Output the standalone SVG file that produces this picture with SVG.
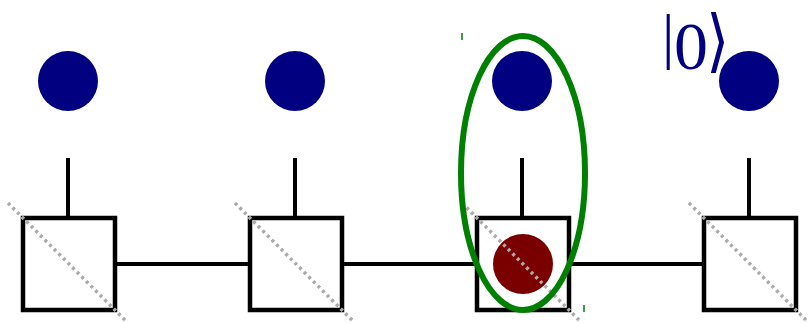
<svg xmlns="http://www.w3.org/2000/svg" width="808" height="323" viewBox="0 0 808 323">
<style>
.q{fill:#000080}
.box{fill:#fff;stroke:#000;stroke-width:4.5}
.ln{stroke:#000;stroke-width:4;fill:none}
.dg{stroke:#aaa;stroke-width:3.5;stroke-dasharray:3 3.5;fill:none}
.lb{fill:#000080}
</style>
<rect width="808" height="323" fill="#fff"/>
<g id="connectors">
<line class="ln" x1="115" y1="264" x2="250" y2="264"/>
<line class="ln" x1="342" y1="264" x2="477" y2="264"/>
<line class="ln" x1="569" y1="264" x2="704" y2="264"/>
<line class="ln" x1="68" y1="158" x2="68" y2="218"/>
<line class="ln" x1="295" y1="158" x2="295" y2="218"/>
<line class="ln" x1="522" y1="158" x2="522" y2="218"/>
<line class="ln" x1="749" y1="158" x2="749" y2="218"/>
</g>
<g id="q1"><circle class="q" cx="68" cy="81" r="30"/></g>
<g id="q2"><circle class="q" cx="295" cy="81" r="30"/></g>
<g id="q3"><circle class="q" cx="522" cy="81" r="30"/></g>
<g id="q4"><circle class="q" cx="749" cy="81" r="30"/></g>
<g id="b1"><rect class="box" x="23" y="218" width="92" height="92"/><line class="dg" x1="8" y1="203" x2="127" y2="322"/></g>
<g id="b2"><rect class="box" x="250" y="218" width="92" height="92"/><line class="dg" x1="235" y1="203" x2="354" y2="322"/></g>
<g id="b3"><rect class="box" x="477" y="218" width="92" height="92"/><circle cx="523" cy="264" r="30" fill="#7a0000"/><line class="dg" x1="462" y1="203" x2="581" y2="322"/></g>
<g id="b4"><rect class="box" x="704" y="218" width="92" height="92"/><line class="dg" x1="689" y1="203" x2="808" y2="322"/></g>
<g id="sel">
<ellipse cx="523" cy="173" rx="62" ry="137" fill="none" stroke="#008000" stroke-width="6"/>
<line x1="462" y1="33" x2="462" y2="40" stroke="#008000" stroke-width="1.5"/>
<line x1="584" y1="305" x2="584" y2="312" stroke="#008000" stroke-width="1.5"/>
</g>
<g id="label"><text class="lb" font-family="'Liberation Serif','DejaVu Serif',serif"><tspan x="662" y="57" font-size="62">|</tspan><tspan x="674" y="69" font-size="68">0</tspan></text><text class="lb" transform="translate(706,0) scale(1,1.14)" x="0" y="56" font-size="60" font-family="'DejaVu Serif',serif">⟩</text></g>
</svg>
